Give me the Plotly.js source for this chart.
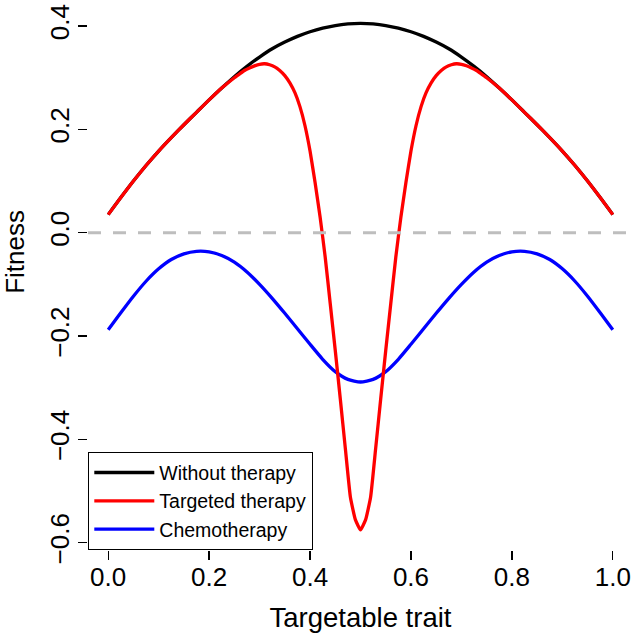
<!DOCTYPE html>
<html>
<head>
<meta charset="utf-8">
<script src="https://cdn.plot.ly/plotly-3.0.1.min.js"></script>
<style>
  html, body { margin: 0; padding: 0; background: #fff; }
  #chart { width: 638px; height: 635px; }
</style>
</head>
<body>
<div id="chart"></div>
<script>
// trait values shared by the "without therapy" and chemotherapy curves
var traitX = [0, 0.025, 0.05, 0.075, 0.1, 0.125, 0.15, 0.175, 0.2, 0.225,
  0.25, 0.275, 0.3, 0.325, 0.35, 0.375, 0.4, 0.425, 0.45, 0.475,
  0.5, 0.525, 0.55, 0.575, 0.6, 0.625, 0.65, 0.675, 0.7, 0.725,
  0.75, 0.775, 0.8, 0.825, 0.85, 0.875, 0.9, 0.925, 0.95, 0.975, 1];

var withoutTherapy = [0.035, 0.068, 0.100, 0.130, 0.158, 0.184, 0.209, 0.233, 0.257, 0.280,
  0.302, 0.322, 0.340, 0.356, 0.369, 0.380, 0.389, 0.396, 0.401, 0.404,
  0.405, 0.404, 0.401, 0.396, 0.389, 0.380, 0.369, 0.356, 0.340, 0.322,
  0.302, 0.280, 0.257, 0.233, 0.209, 0.184, 0.158, 0.130, 0.100, 0.068, 0.035];

var chemotherapy = [-0.188, -0.155, -0.123, -0.094, -0.070, -0.052, -0.041, -0.036, -0.037, -0.044,
  -0.057, -0.076, -0.100, -0.127, -0.156, -0.186, -0.216, -0.245, -0.269, -0.284,
  -0.289, -0.284, -0.269, -0.245, -0.216, -0.186, -0.156, -0.127, -0.100, -0.076,
  -0.057, -0.044, -0.037, -0.036, -0.041, -0.052, -0.070, -0.094, -0.123, -0.155, -0.188];

// targeted therapy needs a finer grid around the dip
var targetedX = [0, 0.025, 0.05, 0.075, 0.1, 0.125, 0.15, 0.175, 0.2, 0.225,
  0.25, 0.26, 0.27, 0.28, 0.29, 0.3, 0.31, 0.32, 0.33, 0.34,
  0.35, 0.36, 0.37, 0.38, 0.39, 0.4, 0.41, 0.42, 0.43, 0.44,
  0.45, 0.46, 0.47, 0.48, 0.49, 0.5, 0.51, 0.52, 0.53, 0.54,
  0.55, 0.56, 0.57, 0.58, 0.59, 0.6, 0.61, 0.62, 0.63, 0.64,
  0.65, 0.66, 0.67, 0.68, 0.69, 0.7, 0.71, 0.72, 0.73, 0.74,
  0.75, 0.775, 0.8, 0.825, 0.85, 0.875, 0.9, 0.925, 0.95, 0.975, 1];

var targetedTherapy = [0.035, 0.068, 0.100, 0.130, 0.158, 0.184, 0.209, 0.233, 0.257, 0.280,
  0.300, 0.307, 0.314, 0.319, 0.323, 0.326, 0.327, 0.325, 0.321, 0.314,
  0.304, 0.290, 0.271, 0.244, 0.207, 0.158, 0.097, 0.030, -0.047, -0.137,
  -0.228, -0.322, -0.418, -0.512, -0.556, -0.575, -0.556, -0.512, -0.418, -0.322,
  -0.228, -0.137, -0.047, 0.030, 0.097, 0.158, 0.207, 0.244, 0.271, 0.290,
  0.304, 0.314, 0.321, 0.325, 0.327, 0.326, 0.323, 0.319, 0.314, 0.307,
  0.300, 0.280, 0.257, 0.233, 0.209, 0.184, 0.158, 0.130, 0.100, 0.068, 0.035];

var seriesNames = ["Without therapy", "Targeted therapy", "Chemotherapy"];
var xTicks = [0, 0.2, 0.4, 0.6, 0.8, 1];
var yTicks = [-0.6, -0.4, -0.2, 0, 0.2, 0.4];

var fontFamily = "Liberation Sans, Arial, sans-serif";

var traces = [
  {
    x: traitX, y: withoutTherapy, type: "scatter", mode: "lines",
    name: seriesNames[0],
    line: { color: "#000000", width: 3.3, shape: "spline", smoothing: 0.6 }
  },
  {
    x: targetedX, y: targetedTherapy, type: "scatter", mode: "lines",
    name: seriesNames[1], zorder: 2,
    line: { color: "#FF0000", width: 3.3, shape: "spline", smoothing: 0.4 }
  },
  {
    x: traitX, y: chemotherapy, type: "scatter", mode: "lines",
    name: seriesNames[2], zorder: 1,
    line: { color: "#0000FF", width: 3.3, shape: "spline", smoothing: 0.6 }
  }
];

var axisCommon = {
  showgrid: false,
  zeroline: false,
  showline: true,
  mirror: true,
  linecolor: "#000000",
  linewidth: 1.3,
  ticks: "outside",
  ticklen: 9,
  tickwidth: 1.3,
  tickcolor: "#000000",
  tickfont: { family: fontFamily, size: 26, color: "#000000" }
};

var layout = {
  width: 638,
  height: 635,
  margin: { l: 88, r: 5, t: 3, b: 85 },
  paper_bgcolor: "#ffffff",
  plot_bgcolor: "#ffffff",
  font: { family: fontFamily, color: "#000000" },
  showlegend: true,
  legend: {
    x: 0, y: 0, xanchor: "left", yanchor: "bottom",
    bgcolor: "#ffffff",
    bordercolor: "#000000",
    borderwidth: 1.3,
    itemwidth: 60,
    font: { family: fontFamily, size: 19.5, color: "#000000" },
    tracegroupgap: 0
  },
  xaxis: Object.assign({}, axisCommon, {
    range: [-0.04, 1.04],
    tickvals: xTicks,
    ticktext: xTicks.map(function (v) { return v.toFixed(1); }),
    ticklabelstandoff: -6,
    title: { text: "Targetable trait", font: { family: fontFamily, size: 27.5 }, standoff: 17 }
  }),
  yaxis: Object.assign({}, axisCommon, {
    range: [-0.6142, 0.4446],
    tickvals: yTicks,
    ticktext: yTicks.map(function (v) { return v.toFixed(1).replace("-", "\u2212"); }),
    tickangle: -90,
    ticklabelstandoff: -2
  }),
  annotations: [
    {
      text: "Fitness", xref: "paper", yref: "paper",
      x: -0.134, y: 0.545, xanchor: "center", yanchor: "middle",
      textangle: -90, showarrow: false,
      font: { family: fontFamily, size: 26, color: "#000000" }
    }
  ],
  shapes: [
    {
      type: "line", xref: "paper", yref: "y",
      x0: 0, x1: 1, y0: 0, y1: 0,
      layer: "above",
      line: { color: "#BEBEBE", width: 3, dash: "13px,12px" }
    }
  ]
};

Plotly.newPlot("chart", traces, layout, { displayModeBar: false, staticPlot: true });
</script>
</body>
</html>
